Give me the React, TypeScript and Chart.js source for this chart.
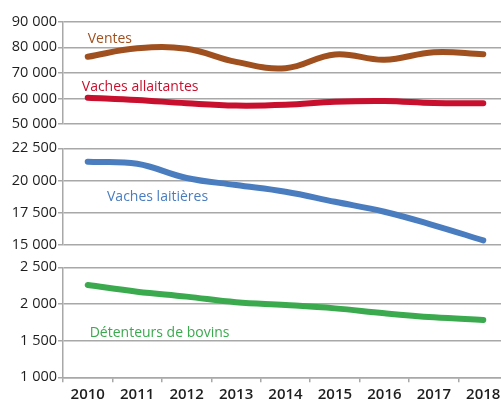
import React, { useEffect, useRef } from "react";
import { Chart, registerables } from "chart.js";

Chart.register(...registerables);

const years = ["2010", "2011", "2012", "2013", "2014", "2015", "2016", "2017", "2018"];
const ventes = [76300, 79600, 79400, 74300, 71800, 77200, 75100, 78100, 77300];
const allaitantes = [60300, 59400, 58100, 57200, 57500, 58700, 59000, 58200, 58100];
const laitieres = [21460, 21300, 20200, 19650, 19130, 18350, 17580, 16530, 15360];
const detenteurs = [2259, 2168, 2100, 2023, 1986, 1940, 1873, 1818, 1782];

const GRID = "#A8A8A8";
const TEXT = "#1E1E1E";
const FONT = '"Open Sans", "DejaVu Sans", sans-serif';

const fmt = (v: number) => String(v).replace(/\B(?=(\d{3})+(?!\d))/g, " ");

type Lbl = { text: string; color: string; xIndex: number; yValue: number };

const labelPlugin = {
  id: "seriesLabels",
  afterDatasetsDraw(chart: any) {
    const lbls: Lbl[] = chart.options.plugins.seriesLabels?.items || [];
    const ctx = chart.ctx;
    ctx.save();
    ctx.font = `14px ${FONT}`;
    ctx.textAlign = "left";
    ctx.textBaseline = "middle";
    for (const l of lbls) {
      const x = chart.scales.x.getPixelForValue(l.xIndex);
      const y = chart.scales.y.getPixelForValue(l.yValue);
      ctx.fillStyle = l.color;
      ctx.fillText(l.text, x, y);
    }
    ctx.restore();
  },
};

type PanelCfg = {
  series: { data: number[]; color: string }[];
  min: number;
  max: number;
  step: number;
  padTop: number;
  padBottom: number;
  showX: boolean;
  xHeight?: number;
  labels: Lbl[];
};

function makeChart(canvas: HTMLCanvasElement, cfg: PanelCfg) {
  return new Chart(canvas, {
    type: "line",
    data: {
      labels: years,
      datasets: cfg.series.map((s) => ({
        data: s.data,
        borderColor: s.color,
        backgroundColor: s.color,
        borderWidth: 6,
        tension: 0.4,
        pointRadius: 0,
        borderCapStyle: "round",
        borderJoinStyle: "round",
        fill: false,
      })),
    },
    options: {
      responsive: false,
      animation: false,
      layout: { padding: { top: cfg.padTop, bottom: cfg.padBottom, left: 0, right: 0 } },
      plugins: {
        legend: { display: false },
        tooltip: { enabled: false },
        seriesLabels: { items: cfg.labels },
      } as any,
      scales: {
        x: {
          type: "category",
          display: cfg.showX,
          offset: true,
          afterFit: (s: any) => {
            if (cfg.xHeight !== undefined) s.height = cfg.xHeight;
          },
          grid: {
            offset: true,
            drawOnChartArea: false,
            drawTicks: true,
            tickLength: 5,
            color: GRID,
            lineWidth: 1.5,
          },
          border: { display: true, color: GRID, width: 1.5 },
          ticks: {
            color: TEXT,
            font: { family: FONT, size: 15, weight: "600" as any },
            padding: 3,
            maxRotation: 0,
            autoSkip: false,
          },
        },
        y: {
          min: cfg.min,
          max: cfg.max,
          afterFit: (s: any) => {
            s.width = 63;
          },
          grid: {
            color: GRID,
            lineWidth: 1.5,
            drawTicks: true,
            tickLength: 5,
          },
          border: { display: true, color: GRID, width: 1.5 },
          ticks: {
            stepSize: cfg.step,
            color: TEXT,
            font: { family: FONT, size: 14.5 },
            padding: 1,
            callback: (v: any) => fmt(Number(v)),
          },
        },
      },
    } as any,
    plugins: [labelPlugin],
  });
}

const W = 508;

export default function App() {
  const r1 = useRef<HTMLCanvasElement>(null);
  const r2 = useRef<HTMLCanvasElement>(null);
  const r3 = useRef<HTMLCanvasElement>(null);

  useEffect(() => {
    const c1 = makeChart(r1.current!, {
      series: [
        { data: ventes, color: "#A0501E" },
        { data: allaitantes, color: "#C8102E" },
      ],
      min: 50000,
      max: 90000,
      step: 10000,
      padTop: 21.7,
      padBottom: 16,
      showX: false,
      labels: [
        { text: "Ventes", color: "#A0501E", xIndex: 0, yValue: 83300 },
        { text: "Vaches allaitantes", color: "#C8102E", xIndex: -0.12, yValue: 64500 },
      ],
    });
    const c2 = makeChart(r2.current!, {
      series: [{ data: laitieres, color: "#4A7DC0" }],
      min: 15000,
      max: 22500,
      step: 2500,
      padTop: 18.3,
      padBottom: 10,
      showX: false,
      labels: [{ text: "Vaches laitières", color: "#4A7DC0", xIndex: 0.39, yValue: 18720 }],
    });
    const c3 = makeChart(r3.current!, {
      series: [{ data: detenteurs, color: "#3BAA4F" }],
      min: 1000,
      max: 2500,
      step: 500,
      padTop: 12.3,
      padBottom: 0,
      showX: true,
      xHeight: 23.7,
      labels: [{ text: "Détenteurs de bovins", color: "#3BAA4F", xIndex: 0.04, yValue: 1605 }],
    });
    return () => {
      c1.destroy();
      c2.destroy();
      c3.destroy();
    };
  }, []);

  const cs = (top: number, h: number): React.CSSProperties => ({
    position: "absolute",
    left: 0,
    top,
    width: W,
    height: h,
  });

  return (
    <div
      style={{
        position: "absolute",
        left: 0,
        top: 0,
        width: 501,
        height: 401,
        overflow: "hidden",
        background: "#fff",
      }}
    >
      <canvas ref={r1} width={W} height={140} style={cs(0, 140)} />
      <canvas ref={r2} width={W} height={125} style={cs(130, 125)} />
      <canvas ref={r3} width={W} height={146} style={cs(255, 146)} />
    </div>
  );
}
